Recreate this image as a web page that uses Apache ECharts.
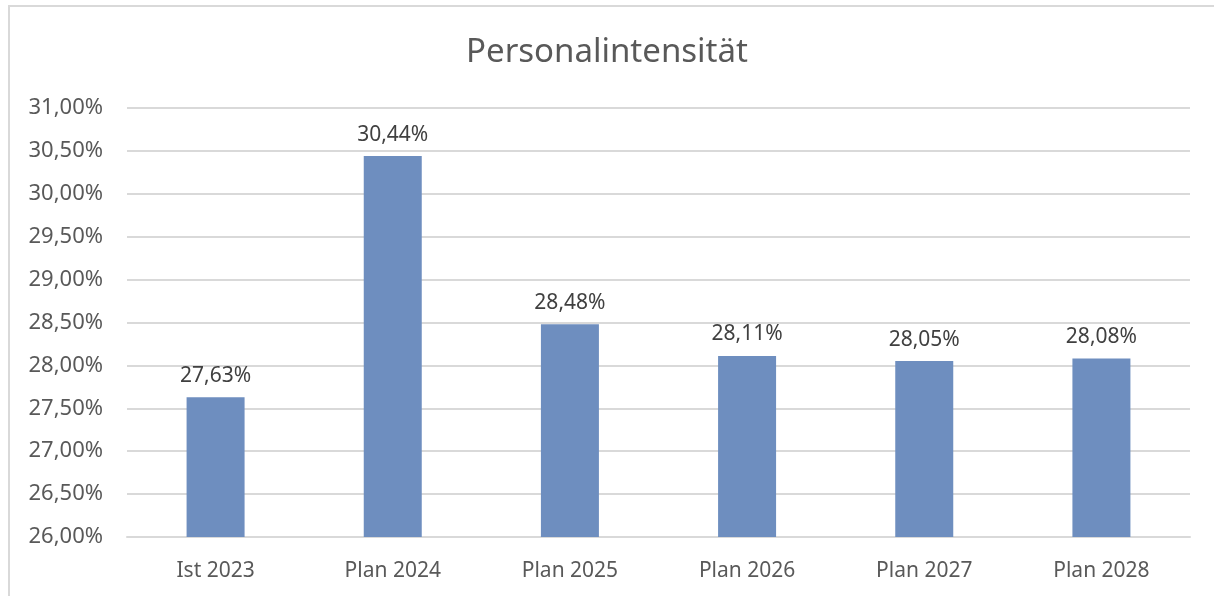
<!DOCTYPE html>
<html>
<head>
<meta charset="utf-8">
<script src="https://cdn.jsdelivr.net/npm/echarts@6/dist/echarts.min.js"></script>
<style>
  html, body { margin: 0; padding: 0; background: #fff; }
  #frame {
    position: absolute; left: 8px; top: 5px; right: 0; bottom: 0;
    border-top: 2px solid #d9d9d9; border-left: 2px solid #d9d9d9;
  }
  #chart { position: absolute; left: 0; top: 0; width: 1214px; height: 596px; }
</style>
</head>
<body>
<div id="frame"></div>
<div id="chart"></div>
<script>
const categories = ["Ist 2023", "Plan 2024", "Plan 2025", "Plan 2026", "Plan 2027", "Plan 2028"];
const values = [27.63, 30.44, 28.48, 28.11, 28.05, 28.08];
const titleText = "Personalintensität";

const fmt = (v) => v.toFixed(2).replace(".", ",") + "%";
const font = "'Noto Sans', 'Open Sans', sans-serif";

const chart = echarts.init(document.getElementById("chart"));
chart.setOption({
  animation: false,
  title: {
    text: titleText,
    left: "center",
    top: 31,
    textStyle: { color: "#595959", fontSize: 33, fontWeight: "normal", fontFamily: font }
  },
  grid: { left: 127, right: 24, top: 108, bottom: 59 },
  xAxis: {
    type: "category",
    data: categories,
    axisLine: { lineStyle: { color: "#d9d9d9", width: 2 } },
    axisTick: { show: false },
    axisLabel: { color: "#595959", fontSize: 21, fontFamily: font, margin: 24 }
  },
  yAxis: {
    type: "value",
    min: 26,
    max: 31,
    interval: 0.5,
    axisLine: { show: false },
    axisTick: { show: false },
    splitLine: { lineStyle: { color: "#d9d9d9", width: 2 } },
    axisLabel: { color: "#595959", fontSize: 22, fontFamily: font, margin: 24, formatter: (v) => fmt(v) }
  },
  series: [{
    type: "bar",
    data: values,
    barWidth: 58,
    itemStyle: { color: "#6e8ebf" },
    label: {
      show: true,
      position: "top",
      distance: 11,
      color: "#404040",
      fontSize: 21,
      fontFamily: font,
      formatter: (p) => fmt(p.value)
    }
  }]
});
</script>
</body>
</html>
